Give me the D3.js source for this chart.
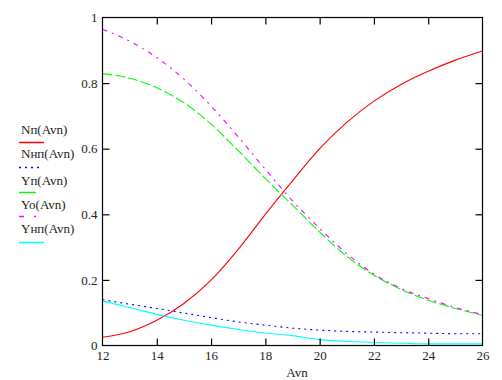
<!DOCTYPE html>
<html><head><meta charset="utf-8">
<script src="https://cdn.jsdelivr.net/npm/d3@7"></script>
<style>
html,body{margin:0;padding:0;background:#fff;}
svg{display:block;font-family:"Liberation Serif","Times New Roman",serif;}
</style></head>
<body><svg id="c" width="502" height="380"></svg>
<script>
const avn = [12,13,14,15,16,17,18,19,20,21,22,23,24,25,26];
const Np  = [0.025,0.042,0.077,0.128,0.199,0.293,0.400,0.502,0.600,0.680,0.745,0.796,0.836,0.870,0.898];
const Nnp = [0.140,0.126,0.113,0.099,0.085,0.072,0.062,0.053,0.047,0.043,0.041,0.039,0.0375,0.036,0.036];
const Yp  = [0.829,0.815,0.786,0.740,0.675,0.594,0.509,0.428,0.346,0.272,0.214,0.171,0.138,0.113,0.092];
const Yo  = [0.964,0.928,0.878,0.812,0.730,0.636,0.537,0.441,0.357,0.280,0.218,0.174,0.143,0.116,0.094];
const Ynp = [0.136,0.116,0.095,0.077,0.062,0.049,0.038,0.030,0.018,0.013,0.009,0.007,0.005,0.005,0.005];
const xTicks = [12,14,16,18,20,22,24,26];
const yTicks = [0,0.2,0.4,0.6,0.8,1];
const seriesNames = ["Nп(Avn)","Nнп(Avn)","Yп(Avn)","Yo(Avn)","Yнп(Avn)"];

const series = [
  {name:seriesNames[0], vals:Np,  color:"#ff0000", dash:null,      legDash:null,         legY:142.5, legX2:44},
  {name:seriesNames[1], vals:Nnp, color:"#0000ff", dash:"2,4",     legDash:"2,4",        legY:167.5, legX2:41},
  {name:seriesNames[2], vals:Yp,  color:"#00ff00", dash:"10,3",    legDash:null,         legY:192.5, legX2:36},
  {name:seriesNames[3], vals:Yo,  color:"#ff00ff", dash:"5,5,2,5", legDash:"5,10,2,10",  legY:216.5, legX2:36},
  {name:seriesNames[4], vals:Ynp, color:"#00ffff", dash:null,      legDash:null,         legY:242.5, legX2:44}
];
const legTextY = [129,153.5,180,204.5,228.5];

const svg = d3.select("#c");
const L=102.5, R=482.5, T=17.5, B=345.5;
const x = d3.scaleLinear().domain([12,26]).range([L,R]);
const y = d3.scaleLinear().domain([0,1]).range([B,T]);

// curves
const line = d3.line().x((d,i)=>x(avn[i])).y(d=>y(d)).curve(d3.curveMonotoneX);
series.forEach(s=>{
  svg.append("path").attr("d",line(s.vals)).attr("fill","none")
    .attr("stroke",s.color).attr("stroke-width",1.1)
    .attr("stroke-dasharray",s.dash);
});

// frame
svg.append("rect").attr("x",L).attr("y",T).attr("width",R-L).attr("height",B-T)
  .attr("fill","none").attr("stroke","#000").attr("stroke-width",1.2);

const tl = 7;
const xb = svg.append("g").attr("transform",`translate(0,${B})`)
  .call(d3.axisBottom(x).tickValues(xTicks).tickSizeInner(-tl).tickSizeOuter(0).tickPadding(tl+5).tickFormat(d3.format("d")));
const xt = svg.append("g").attr("transform",`translate(0,${T})`)
  .call(d3.axisTop(x).tickValues(xTicks.slice(1,-1)).tickSizeInner(-tl).tickSizeOuter(0).tickFormat(""));
const yl = svg.append("g").attr("transform",`translate(${L},0)`)
  .call(d3.axisLeft(y).tickValues(yTicks).tickSizeInner(-tl).tickSizeOuter(0).tickPadding(5).tickFormat(d=>d===0?"0":d===1?"1":d3.format(".1f")(d)));
const yr = svg.append("g").attr("transform",`translate(${R},0)`)
  .call(d3.axisRight(y).tickValues(yTicks.slice(1,-1)).tickSizeInner(-tl).tickSizeOuter(0).tickFormat(""));
[xb,xt,yl,yr].forEach(g=>{
  g.attr("font-family","Liberation Serif, Times New Roman, serif");
  g.select(".domain").remove();
  g.selectAll(".tick line").attr("stroke","#000").attr("stroke-width",1.2);
  g.selectAll("text").attr("font-family","Liberation Serif, Times New Roman, serif")
    .attr("font-size",13).attr("fill","#222");
});
yl.selectAll(".tick").filter(d=>d===0 || d===1).select("line").remove();
xb.selectAll(".tick").filter(d=>d===12 || d===26).select("line").remove();
xb.selectAll("text").attr("dy","0.2em");
yl.selectAll("text").attr("x",-5);

// axis title
svg.append("text").attr("x",297).attr("y",374).attr("text-anchor","middle")
  .attr("dominant-baseline","middle").attr("font-size",13).attr("fill","#222").text("Avn");

// legend
series.forEach((s,i)=>{
  svg.append("text").attr("x",21).attr("y",legTextY[i]).attr("dy","0.35em")
    .attr("font-size",13).attr("fill","#222").text(s.name);
  svg.append("line").attr("x1",19).attr("x2",s.legX2).attr("y1",s.legY).attr("y2",s.legY)
    .attr("stroke",s.color).attr("stroke-width",1.5).attr("stroke-dasharray",s.legDash);
});
</script></body></html>
